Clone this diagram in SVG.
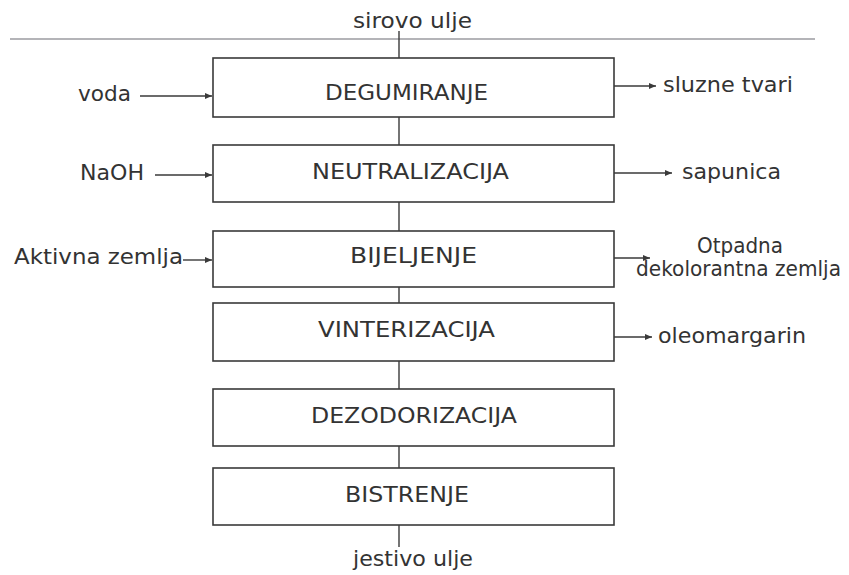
<svg xmlns="http://www.w3.org/2000/svg" width="849" height="575" viewBox="0 0 849 575">
<style>
text{font-family:"DejaVu Sans","Verdana",sans-serif;font-size:21px;fill:#333;}
.box{fill:#fff;stroke:#3a3a3a;stroke-width:1.6;}
.ln{stroke:#3a3a3a;stroke-width:1.4;fill:none;}
.arr{stroke:#3a3a3a;stroke-width:1.4;fill:none;marker-end:url(#ah);}
</style>
<defs>
<marker id="ah" markerUnits="userSpaceOnUse" markerWidth="8" markerHeight="8" refX="7" refY="3.5" orient="auto">
<path d="M0,0.5 L7,3.5 L0,6.5 z" fill="#3a3a3a"/>
</marker>
</defs>
<rect width="849" height="575" fill="#fff"/>
<line x1="10" y1="39" x2="815" y2="39" stroke="#b4b4b8" stroke-width="2"/>

<g id="connectors">
<line class="ln" x1="399" y1="31" x2="399" y2="58"/>
<line class="ln" x1="399" y1="117" x2="399" y2="145"/>
<line class="ln" x1="399" y1="202" x2="399" y2="231"/>
<line class="ln" x1="399" y1="287" x2="399" y2="303"/>
<line class="ln" x1="399" y1="361" x2="399" y2="389"/>
<line class="ln" x1="399" y1="446" x2="399" y2="468"/>
<line class="ln" x1="399" y1="525" x2="399" y2="547"/>
<line class="arr" x1="140" y1="96" x2="212" y2="96"/>
<line class="arr" x1="155" y1="175" x2="212" y2="175"/>
<line class="arr" x1="183" y1="260" x2="212" y2="260"/>
<line class="arr" x1="614" y1="86" x2="656" y2="86"/>
<line class="arr" x1="614" y1="173" x2="672" y2="173"/>
<line class="arr" x1="614" y1="258" x2="650" y2="258"/>
<line class="arr" x1="614" y1="337" x2="652" y2="337"/>
</g>

<g id="sirovo-ulje"><text x="353" y="28" textLength="119" lengthAdjust="spacingAndGlyphs">sirovo ulje</text></g>

<g id="degumiranje">
<rect class="box" x="213" y="58" width="401" height="59"/>
<text x="325" y="100" textLength="163" lengthAdjust="spacingAndGlyphs">DEGUMIRANJE</text>
</g>
<g id="neutralizacija">
<rect class="box" x="213" y="145" width="401" height="57"/>
<text x="312" y="179" textLength="197" lengthAdjust="spacingAndGlyphs">NEUTRALIZACIJA</text>
</g>
<g id="bijeljenje">
<rect class="box" x="213" y="231" width="401" height="56"/>
<text x="350" y="263" textLength="127" lengthAdjust="spacingAndGlyphs">BIJELJENJE</text>
</g>
<g id="vinterizacija">
<rect class="box" x="213" y="303" width="401" height="58"/>
<text x="318" y="337" textLength="177" lengthAdjust="spacingAndGlyphs">VINTERIZACIJA</text>
</g>
<g id="dezodorizacija">
<rect class="box" x="213" y="389" width="401" height="57"/>
<text x="311" y="423" textLength="206" lengthAdjust="spacingAndGlyphs">DEZODORIZACIJA</text>
</g>
<g id="bistrenje">
<rect class="box" x="213" y="468" width="401" height="57"/>
<text x="345" y="502" textLength="124" lengthAdjust="spacingAndGlyphs">BISTRENJE</text>
</g>

<g id="jestivo-ulje"><text x="353" y="566" textLength="120" lengthAdjust="spacingAndGlyphs">jestivo ulje</text></g>

<g id="voda"><text x="78" y="101" textLength="53" lengthAdjust="spacingAndGlyphs">voda</text></g>
<g id="naoh"><text x="80" y="180" textLength="64" lengthAdjust="spacingAndGlyphs">NaOH</text></g>
<g id="aktivna-zemlja"><text x="14" y="264" textLength="169" lengthAdjust="spacingAndGlyphs">Aktivna zemlja</text></g>

<g id="sluzne-tvari"><text x="663" y="92" textLength="130" lengthAdjust="spacingAndGlyphs">sluzne tvari</text></g>
<g id="sapunica"><text x="682" y="179" textLength="99" lengthAdjust="spacingAndGlyphs">sapunica</text></g>
<g id="otpadna-zemlja">
<text x="697" y="253" textLength="86" lengthAdjust="spacingAndGlyphs">Otpadna</text>
<text x="636" y="276" textLength="205" lengthAdjust="spacingAndGlyphs">dekolorantna zemlja</text>
</g>
<g id="oleomargarin"><text x="658" y="343" textLength="148" lengthAdjust="spacingAndGlyphs">oleomargarin</text></g>
</svg>
